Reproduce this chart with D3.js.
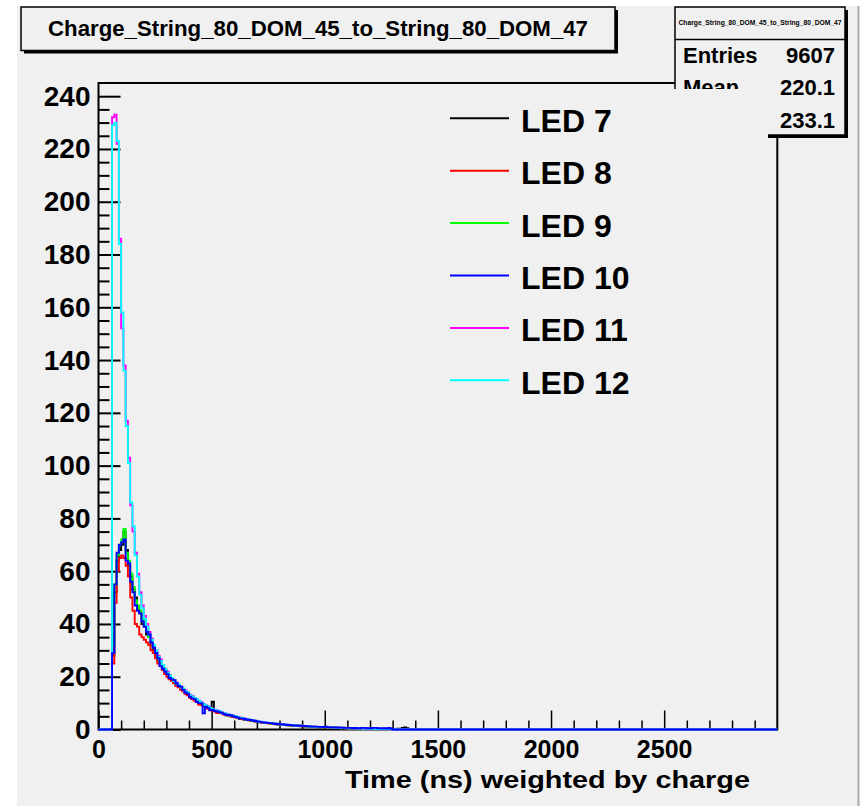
<!DOCTYPE html>
<html><head><meta charset="utf-8">
<script src="https://cdn.jsdelivr.net/npm/d3@7"></script>
<style>
html,body{margin:0;padding:0;background:#fff;}
svg{display:block;}
text{font-family:"Liberation Sans",Arial,Helvetica,sans-serif;font-weight:bold;fill:#000;}
</style></head>
<body>
<script>
// ---------------- data ----------------
const titleText = "Charge_String_80_DOM_45_to_String_80_DOM_47";
const xTitle = "Time (ns) weighted by charge";
const statsLabels = ["Entries", "Mean"];
const statsValues = ["9607", "220.1", "233.1"];
const seriesNames = ["LED 7", "LED 8", "LED 9", "LED 10", "LED 11", "LED 12"];
const seriesColors = ["#000000", "#ff0000", "#00ff00", "#0000ff", "#ff00ff", "#00ffff"];
const drawOrder = [0, 1, 2, 4, 5, 3];
const binStart = 60, binWidth = 10;
const xDomain = [0, 3000];
const yDomain = [0, 245];
const xMajorTicks = [0, 500, 1000, 1500, 2000, 2500];
const yMajorTicks = [0, 20, 40, 60, 80, 100, 120, 140, 160, 180, 200, 220, 240];

const led7 = [28,52,64,68,70,75,68,62,58,53, 50,46,44,40,39,36,35,32,30,28,
 26,25,23,22,21,19.5,19,18,17,16.5, 16,15,14,13.5,12.5,12,11.5,10.5,10,9.6,
 9,8.7,8,7.5,10.5,7,6.8,6.5,6.2,5.9, 5.4,5.5,5.0,5.1,4.6,4.5,4.1,4.2,3.8,3.6,
 3.7,3.3,3.2,3.0,3.1,2.7,2.8,2.5,2.4,2.5, 2.2,2.1,2.2,1.9,1.8,1.9,1.7,1.6,1.7,1.5,
 1.4,1.5,1.3,1.2,1.3,1.1,1.2,1.0,1.1,0.9, 1.0,0.8,0.9,0.9,0.7,0.8,0.7,0.8,0.6,0.7,
 0.6,0.5,0.7,0.5,0.6,0.4,0.5,0.5,0.4,0.5, 0.4,0.3,0.5,0.3,0.4,0.3,0.4,0.2,0.3,0.3,
 0.2,0.3,0.2,0.3,0.2,0.2,0.3,0.2,0.6,0.8, 0.5,0.2,0.1,0];
const led8 = [25,48,60,65,66,65,62,58,50,45, 40,39,36,35,34,33,32,30,29,27,
 25,24,22.5,21,20,19,18.5,17.5,16.5,16, 15,14.5,13.5,13,12,11.5,11,10.5,9.5,9.3,
 8.8,8.3,7.9,7.4,7.1,6.8,6.2,6.4,6.1,5.7, 5.5,5.3,5.0,4.8,4.7,4.4,4.3,4.0,3.9,3.7,
 3.5,3.4,3.3,3.1,2.9,2.8,2.6,2.6,2.4,2.3, 2.2,2.2,2.0,2.0,1.9,1.8,1.7,1.7,1.6,1.5,
 1.5,1.4,1.4,1.3,1.2,1.2,1.1,1.1,1.0,1.0, 0.9,0.9,0.9,0.8,0.8,0.7,0.7,0.6,0.7,0.6,
 0.6,0.5,0.5,0.5,0.4,0.5,0.4,0.4,0.4,0.3, 0.3,0.4,0.3,0.3,0.3,0.2,0.3,0.2,0.2,0.2,
 0.2,0.2,0.1,0.2,0.1,0.1,0.1,0.1,0.1,0, 0,0,0,0];
const led9 = [32,55,66,70,72,76,67,64,59,54, 49,47,45,42,40,38,35,34,31,29,
 27,25.5,24,22.5,21.5,20.5,19.5,18.5,17.5,17, 16,15.5,14.5,14,13,12.5,12,11,10.5,10,
 9.4,9,8.5,8,7.6,7.3,7.0,6.8,6.4,6.0, 5.8,5.6,5.2,5.1,4.9,4.6,4.4,4.3,4.0,3.8,
 3.7,3.5,3.3,3.2,3.0,2.9,2.8,2.6,2.5,2.4, 2.3,2.2,2.1,2.0,1.9,1.8,1.8,1.7,1.6,1.6,
 1.5,1.4,1.4,1.3,1.3,1.2,1.1,1.1,1.0,1.0, 1.0,0.9,0.9,0.8,0.8,0.8,0.7,0.7,0.6,0.6,
 0.6,0.5,0.5,0.5,0.5,0.4,0.4,0.4,0.4,0.3, 0.3,0.3,0.3,0.3,0.2,0.2,0.2,0.2,0.2,0.2,
 0.1,0.2,0.1,0.1,0.1,0.1,0,0,0,0, 0,0,0,0];
const led10 = [29,55,67,70,71,72,64,63,56,52, 47,45,44,41,39,37,36,33,31,29,
 27,24,23,22,21,19.5,19,18.7,17.5,16.5, 16.2,15,14,13.6,12.4,11.8,11.5,10.5,10,9.9,
 6.1,8.6,8.2,7.3,7.5,7.0,6.8,6.6,6.3,5.9, 5.6,5.5,5.4,5.0,4.8,4.6,4.2,4.2,4.0,3.8,
 3.6,3.6,3.3,3.2,3.0,2.9,2.7,2.6,2.5,2.4, 2.4,2.2,2.1,2.1,2.0,1.9,1.8,1.7,1.7,1.6,
 1.5,1.5,1.4,1.4,1.3,1.3,1.2,1.2,1.1,1.1, 1.1,1.0,1.0,0.9,1.1,0.9,0.8,0.8,0.8,0.7,
 0.8,0.7,0.6,0.6,0.6,0.6,0.5,0.6,0.5,0.5, 0.6,0.6,0.5,0.5,0.5,0.6,0.6,0.5,0.5,0.4,
 0.5,0.4,0.6,0.3,0,0,0,0,0,0, 0,0,0,0];
const led11 = [232,233,222,186,152,138,117,103,85,75, 67,59,52,47,43,40,37,34.5,32,30,
 28,26.5,24.5,23,22,20.5,19.5,18.7,17.8,17, 16.2,15.4,14.8,14,13.2,12.7,12,11.4,10.9,10.3,
 9.7,9.2,8.8,8.3,7.9,7.5,7.2,6.8,6.6,6.3, 6.0,5.7,5.5,5.3,5.0,4.8,4.6,4.4,4.2,4.0,
 3.8,3.6,3.5,3.3,3.2,3.0,2.9,2.8,2.6,2.5, 2.4,2.3,2.2,2.1,2.0,2.0,1.9,1.8,1.7,1.7,
 1.6,1.5,1.5,1.4,1.3,1.3,1.2,1.2,1.1,1.1, 1.0,1.0,0.9,0.9,0.9,0.8,0.8,0.7,0.7,0.7,
 0.6,0.6,0.6,0.5,0.5,0.5,0.5,0.4,0.4,0.4, 0.4,0.3,0.3,0.3,0.3,0.2,0.2,0.2,0.2,0.2,
 0.1,0.1,0.1,0.1,0,0,0,0,0,0, 0,0,0,0];
const led12 = [229,230,223,184,158,136,115,101,86,77, 66,58,51,46,42,39,36,34,32,30,
 27.5,26,24.5,23,21.5,20.5,19.5,18.5,17.5,17, 16,15.5,14.5,14,13,12.5,12,11.5,10.8,10.2,
 9.6,9.1,8.7,8.2,7.8,7.4,7.1,6.9,6.5,6.2, 5.9,5.7,5.4,5.2,5.0,4.8,4.5,4.4,4.1,3.9,
 3.8,3.6,3.4,3.3,3.1,3.0,2.8,2.7,2.6,2.5, 2.4,2.3,2.2,2.1,2.0,1.9,1.9,1.8,1.7,1.6,
 1.6,1.5,1.4,1.4,1.3,1.3,1.2,1.2,1.1,1.1, 1.0,1.0,1.0,0.9,0.9,0.8,0.8,0.8,0.7,0.7,
 0.7,0.6,0.6,0.6,0.5,0.5,0.5,0.5,0.4,0.4, 0.4,0.4,0.3,0.3,0.3,0.3,0.3,0.2,0.2,0.2,
 0.2,0.2,0.1,0.1,0.1,0,0,0,0,0, 0,0,0,0];
const seriesValues = [led7, led8, led9, led10, led11, led12];

// ---------------- layout ----------------
const W = 862, H = 806;
const padColor = "#f0f0f0";
const frame = {l: 98.5, t: 83, r: 777.3, b: 729.5};

const svg = d3.select("body").append("svg").attr("width", W).attr("height", H);
svg.append("rect").attr("x", 17).attr("y", 6).attr("width", 841).attr("height", H - 6).attr("fill", padColor);
svg.append("line").attr("x1", 858.5).attr("x2", 858.5).attr("y1", 6).attr("y2", H).attr("stroke", "#a8a8a8").attr("stroke-width", 2);

const x = d3.scaleLinear().domain(xDomain).range([frame.l, frame.r]);
const y = d3.scaleLinear().domain(yDomain).range([frame.b, frame.t]);

// frame
svg.append("rect").attr("x", frame.l).attr("y", frame.t)
  .attr("width", frame.r - frame.l).attr("height", frame.b - frame.t)
  .attr("fill", "none").attr("stroke", "#000").attr("stroke-width", 2);

// axes
const yMinor = d3.range(0, 245, 5).filter(v => v % 20 !== 0);
const xMinor = d3.range(0, 3000, 100).filter(v => v % 500 !== 0);

const gy = svg.append("g").attr("transform", `translate(${frame.l},0)`);
gy.call(d3.axisLeft(y).tickValues(yMajorTicks).tickSize(-22).tickPadding(8).tickFormat(d3.format("d")));
gy.append("g").call(d3.axisLeft(y).tickValues(yMinor).tickSize(-11).tickFormat(""));
gy.selectAll(".domain").remove();
gy.selectAll("line").attr("stroke", "#000").attr("stroke-width", 2);
gy.selectAll("text").style("font-size", "28px").style("font-family", '"Liberation Sans",Arial,sans-serif').style("font-weight", "bold").attr("fill", "#000");

const gx = svg.append("g").attr("transform", `translate(0,${frame.b})`);
gx.call(d3.axisBottom(x).tickValues(xMajorTicks).tickSize(-19).tickPadding(11).tickFormat(d3.format("d")));
gx.append("g").call(d3.axisBottom(x).tickValues(xMinor).tickSize(-9).tickFormat(""));
gx.selectAll(".domain").remove();
gx.selectAll("line").attr("stroke", "#000").attr("stroke-width", 1.5);
gx.selectAll("text").style("font-size", "25px").style("font-family", '"Liberation Sans",Arial,sans-serif').style("font-weight", "bold").attr("fill", "#000");

// x title
svg.append("text").attr("x", 750).attr("y", 788).attr("text-anchor", "end")
  .style("font-size", "24px").attr("textLength", 405).attr("lengthAdjust", "spacingAndGlyphs").text(xTitle);

// histograms
svg.append("clipPath").attr("id", "clipPlot").append("rect")
  .attr("x", frame.l).attr("y", frame.t).attr("width", frame.r - frame.l).attr("height", frame.b - frame.t + 2);
const line = d3.line().x(d => x(d[0])).y(d => y(d[1])).curve(d3.curveStepAfter);
const gh = svg.append("g").attr("clip-path", "url(#clipPlot)");
drawOrder.forEach(i => {
  const vals = seriesValues[i];
  const pts = [[xDomain[0], 0]];
  vals.forEach((v, k) => pts.push([binStart + k * binWidth, v]));
  pts.push([binStart + vals.length * binWidth, 0]);
  pts.push([xDomain[1], 0]);
  gh.append("path").attr("d", line(pts)).attr("fill", "none")
    .attr("stroke", seriesColors[i]).attr("stroke-width", 1.9);
});

// stats box
const sb = {x: 675, y: 7, w: 170, h: 128};
svg.append("rect").attr("x", sb.x + 3).attr("y", sb.y + 3).attr("width", sb.w).attr("height", sb.h).attr("fill", "#000");
svg.append("rect").attr("x", sb.x).attr("y", sb.y).attr("width", sb.w).attr("height", sb.h)
  .attr("fill", padColor).attr("stroke", "#000").attr("stroke-width", 1.5);
svg.append("line").attr("x1", sb.x).attr("x2", sb.x + sb.w).attr("y1", 39.5).attr("y2", 39.5).attr("stroke", "#000").attr("stroke-width", 1.5);
svg.append("text").attr("x", sb.x + sb.w / 2).attr("y", 25).attr("text-anchor", "middle")
  .style("font-size", "6.5px").attr("textLength", 163).attr("lengthAdjust", "spacingAndGlyphs").text(titleText);
const statY = [63, 95, 128];
statsLabels.forEach((s, i) => svg.append("text").attr("x", 683).attr("y", statY[i]).style("font-size", "22px").text(s));
statsValues.forEach((s, i) => svg.append("text").attr("x", 835).attr("y", statY[i]).attr("text-anchor", "end").style("font-size", "22px").text(s));

// legend (box has pad fill, no border)
svg.append("rect").attr("x", 440).attr("y", 89).attr("width", 328).attr("height", 320).attr("fill", padColor);
const legY0 = 118.3, legDy = 52.4;
seriesNames.forEach((n, i) => {
  const ly = legY0 + i * legDy;
  svg.append("line").attr("x1", 450).attr("x2", 509).attr("y1", ly).attr("y2", ly)
    .attr("stroke", seriesColors[i]).attr("stroke-width", 2);
  svg.append("text").attr("x", 521).attr("y", ly + 13.4).style("font-size", "32px").text(n);
});

// title box
svg.append("rect").attr("x", 24).attr("y", 10).attr("width", 594).attr("height", 43.5).attr("fill", "#000");
svg.append("rect").attr("x", 21).attr("y", 7).attr("width", 594).attr("height", 43.5)
  .attr("fill", padColor).attr("stroke", "#000").attr("stroke-width", 1.5);
svg.append("text").attr("x", 318).attr("y", 36).attr("text-anchor", "middle")
  .style("font-size", "21.5px").attr("textLength", 540).attr("lengthAdjust", "spacingAndGlyphs").text(titleText);
</script>
</body></html>
